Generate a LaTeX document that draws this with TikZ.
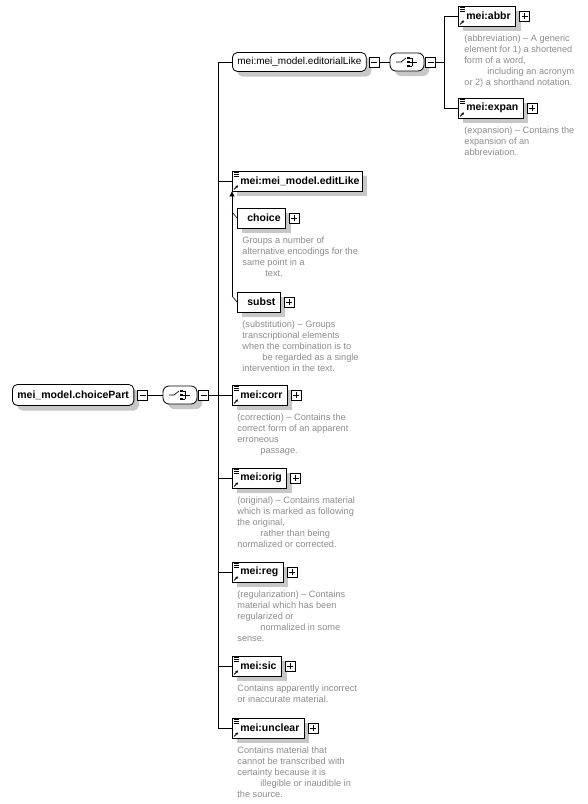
\documentclass[tikz,border=0pt]{standalone}
\usepackage{fontspec}
\setmainfont{Liberation Sans}
\usetikzlibrary{positioning, shadows, arrows.meta}

\tikzset{%
  shade box/.style={drop shadow={shadow xshift=5pt, shadow yshift=-5pt,
                    fill=black!22, opacity=1}},
  elembase/.style={draw, fill=white, shade box, anchor=west,
                   font=\fontsize{10.5}{12}\selectfont\bfseries,
                   minimum height=20pt, inner xsep=0pt, inner ysep=0pt},
  elem/.style={elembase, execute at begin node=\hspace*{8pt},
               execute at end node=\hspace*{5pt}},
  local/.style={elembase, execute at begin node=\hspace*{10pt},
                execute at end node=\hspace*{5pt}},
  group/.style={draw, fill=white, shade box, anchor=west, rounded corners=5pt,
                minimum height=19pt, inner ysep=0pt, inner xsep=5pt},
  comp/.style={draw, fill=white, shade box, rounded corners=6pt,
               minimum width=34pt, minimum height=18pt, inner sep=0pt},
  pm/.style={draw, fill=white, minimum size=10pt, inner sep=0pt},
  minusbox/.style={pm, path picture={
      \draw ([xshift=2pt]path picture bounding box.west)
         -- ([xshift=-2pt]path picture bounding box.east);}},
  plusbox/.style={pm, path picture={
      \draw ([xshift=2pt]path picture bounding box.west)
         -- ([xshift=-2pt]path picture bounding box.east);
      \draw ([yshift=-2pt]path picture bounding box.north)
         -- ([yshift=2pt]path picture bounding box.south);}},
  desc/.style={anchor=north west, align=left, inner sep=0pt, text=black!45,
               font=\fontsize{9.2}{11}\selectfont},
}

% little marks of a referenced element
\newcommand\elemicons[1]{%
  \foreach \dy in {2,4,6}
    \draw[line width=.6pt] ([shift={(2,\dy)}]#1.north west) -- ++(5,0);
  \draw[line width=.9pt, -{Triangle[length=2.5pt,width=2.5pt]}]
    ([shift={(2,-2)}]#1.south west) -- ++(4,-4);}

% choice compositor symbol
\newcommand\compicon[1]{%
  \begin{scope}[shift={(#1.center)}, line width=.7pt]
    \draw (-11,0) -- (-6,0) -- (-1,-4);
    \foreach \yy in {-4,0,4} {
      \fill (0,\yy-1.3) rectangle (2.6,\yy+1.3);
      \draw (2.6,\yy) -- (5,\yy);
    }
    \draw (5,-4) -- (5,4);
    \draw (5,0) -- (10,0);
  \end{scope}}

\begin{document}
\begin{tikzpicture}[x=1pt, y=-1pt, line width=.8pt]
\useasboundingbox (0,0) rectangle (588,804);

% root and its compositor
\node[group, font=\fontsize{10.5}{12}\selectfont\bfseries, minimum height=21pt] (root) at (12,395) {mei\_model.choicePart};
\node[minusbox, right=3pt of root] (rootm) {};
\node[comp] (rootC) at (180,395) {};
\node[minusbox, right=1pt of rootC] (rootCm) {};
\compicon{rootC}
\draw (rootm) -- (rootC);

\coordinate (bartop) at (218,62);
\coordinate (barbot) at (218,728);
\draw (rootCm) -- (rootCm -| bartop);
\draw (bartop) -- (barbot);

% editorialLike group
\node[group, font=\fontsize{10}{12}\selectfont] (editorial) at (232,62) {mei:mei\_model.editorialLike};
\node[minusbox, right=2pt of editorial] (editorialm) {};
\node[comp] (editC) at (407,62) {};
\node[minusbox, right=1pt of editC] (editCm) {};
\compicon{editC}
\draw (editorialm) -- (editC);

\coordinate (bar2top) at (444,16);
\coordinate (bar2bot) at (444,108);
\draw (editCm) -- (editCm -| bar2top);
\draw (bar2top) -- (bar2bot);

\node[elem] (abbr) at (458,16) {mei:abbr};
\node[plusbox, right=3pt of abbr] (abbrp) {};
\elemicons{abbr}
\node[desc] (abbrd) at ([shift={(6,8)}]abbr.south west) {(abbreviation) – A generic\\element for 1) a shortened\\form of a word,\\\hspace*{23pt}including an acronym\\or 2) a shorthand notation.};

\node[elem] (expan) at (458,108) {mei:expan};
\node[plusbox, right=3pt of expan] (expanp) {};
\elemicons{expan}
\node[desc] (expand) at ([shift={(6,8)}]expan.south west) {(expansion) – Contains the\\expansion of an\\abbreviation.};

\draw (bar2top) -- (abbr.west);
\draw (bar2bot) -- (expan.west);

% editLike group
\node[elem, execute at end node=\hspace*{-2pt}] (editlike) at (232,181) {mei:mei\_model.editLike};
\elemicons{editlike}

\node[local] (choice) at (237,218) {choice};
\node[plusbox, right=3pt of choice] (choicep) {};
\node[desc] (choiced) at ([shift={(5,8)}]choice.south west) {Groups a number of\\alternative encodings for the\\same point in a\\\hspace*{23pt}text.};

\node[local] (subst) at (237,302) {subst};
\node[plusbox, right=3pt of subst] (substp) {};
\node[desc] (substd) at ([shift={(5,8)}]subst.south west) {(substitution) – Groups\\transcriptional elements\\when the combination is to\\\hspace*{20pt}be regarded as a single\\intervention in the text.};

\coordinate (hook) at (232,296);
\draw[line width=.6pt] (subst.west) -- (hook);
\draw[line width=.6pt] (choice.west) -- ++(-5,-6);
\draw[line width=.7pt, -{Triangle[length=5pt,width=5pt]}] (hook) -- (hook |- editlike.south);

% remaining elements
\node[elem] (corr) at (232,395) {mei:corr};
\node[plusbox, right=3pt of corr] (corrp) {};
\elemicons{corr}
\node[desc] (corrd) at ([shift={(5,8)}]corr.south west) {(correction) – Contains the\\correct form of an apparent\\erroneous\\\hspace*{23pt}passage.};

\node[elem] (orig) at (232,478) {mei:orig};
\node[plusbox, right=3pt of orig] (origp) {};
\elemicons{orig}
\node[desc] (origd) at ([shift={(5,8)}]orig.south west) {(original) – Contains material\\which is marked as following\\the original,\\\hspace*{23pt}rather than being\\normalized or corrected.};

\node[elem] (reg) at (232,572) {mei:reg};
\node[plusbox, right=3pt of reg] (regp) {};
\elemicons{reg}
\node[desc] (regd) at ([shift={(5,8)}]reg.south west) {(regularization) – Contains\\material which has been\\regularized or\\\hspace*{23pt}normalized in some\\sense.};

\node[elem] (sic) at (232,666) {mei:sic};
\node[plusbox, right=3pt of sic] (sicp) {};
\elemicons{sic}
\node[desc] (sicd) at ([shift={(5,8)}]sic.south west) {Contains apparently incorrect\\or inaccurate material.};

\node[elem] (unclear) at (232,728) {mei:unclear};
\node[plusbox, right=3pt of unclear] (unclearp) {};
\elemicons{unclear}
\node[desc] (uncleard) at ([shift={(5,8)}]unclear.south west) {Contains material that\\cannot be transcribed with\\certainty because it is\\\hspace*{23pt}illegible or inaudible in\\the source.};

% branches from the bar
\foreach \n in {editorial, editlike, corr, orig, reg, sic, unclear}
  \draw (bartop |- \n.west) -- (\n.west);

\end{tikzpicture}
\end{document}
